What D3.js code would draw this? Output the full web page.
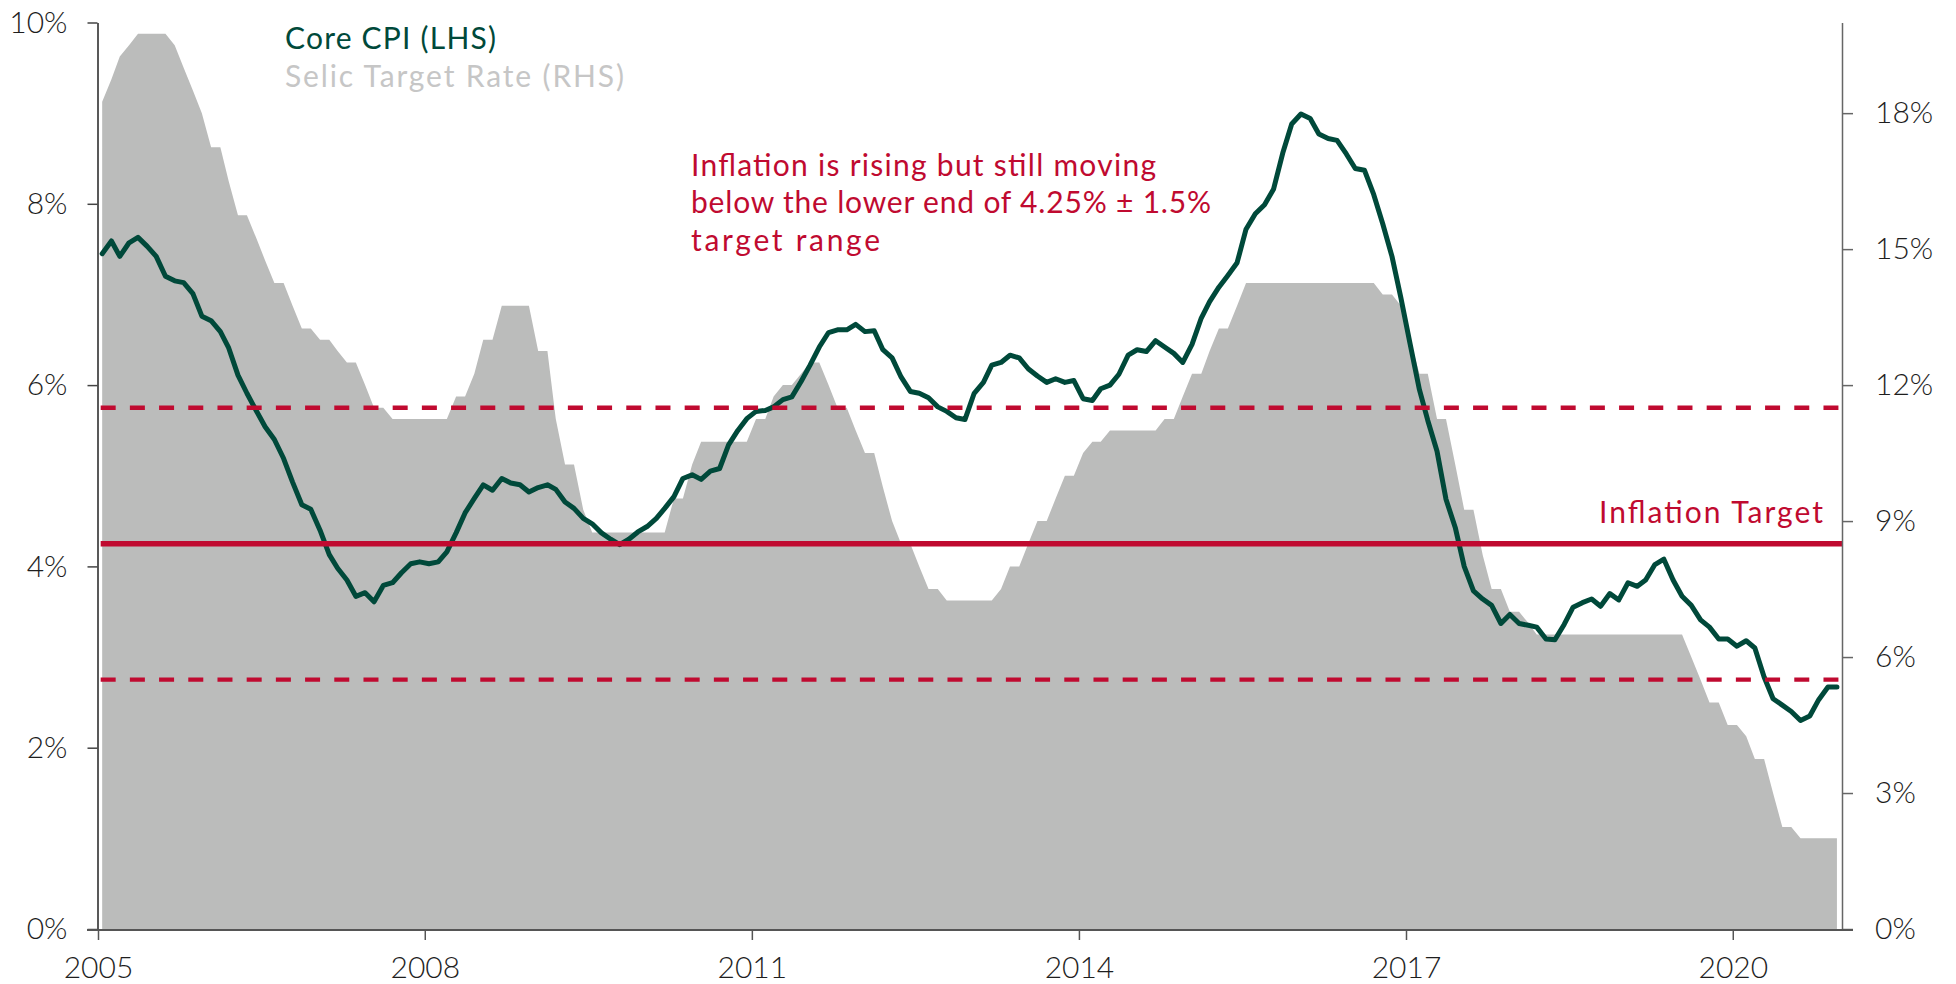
<!DOCTYPE html>
<html>
<head>
<meta charset="utf-8">
<script src="https://cdn.jsdelivr.net/npm/d3@7"></script>
<style>
  body { margin: 0; background: #ffffff; }
  svg { display: block; font-family: Lato, "Open Sans", "Noto Sans", sans-serif; }
</style>
</head>
<body>
<svg id="chart" width="1956" height="984"></svg>
<script>
// Monthly series, January 2005 to December 2020
const startYear = 2005;

// Core CPI, % y/y (left axis)
const coreCpi = [
  7.45, 7.59, 7.42, 7.57, 7.63, 7.53, 7.42, 7.20, 7.15, 7.13, 7.01, 6.76,
  6.71, 6.59, 6.41, 6.11, 5.91, 5.72, 5.54, 5.40, 5.19, 4.93, 4.68, 4.63,
  4.40, 4.13, 3.98, 3.85, 3.67, 3.71, 3.61, 3.79, 3.82, 3.93, 4.03, 4.05,
  4.03, 4.05, 4.16, 4.37, 4.59, 4.75, 4.90, 4.84, 4.97, 4.92, 4.90, 4.82,
  4.87, 4.90, 4.85, 4.71, 4.64, 4.53, 4.47, 4.37, 4.30, 4.24, 4.30, 4.38,
  4.44, 4.53, 4.64, 4.77, 4.97, 5.01, 4.96, 5.05, 5.08, 5.34, 5.50, 5.63,
  5.71, 5.72, 5.76, 5.84, 5.87, 6.04, 6.22, 6.42, 6.58, 6.61, 6.61, 6.67,
  6.59, 6.60, 6.39, 6.30, 6.09, 5.93, 5.91, 5.86, 5.76, 5.71, 5.64, 5.62,
  5.91, 6.03, 6.22, 6.25, 6.33, 6.30, 6.18, 6.10, 6.03, 6.07, 6.03, 6.05,
  5.85, 5.83, 5.96, 6.00, 6.12, 6.33, 6.39, 6.37, 6.49, 6.42, 6.35, 6.25,
  6.45, 6.74, 6.92, 7.08, 7.21, 7.35, 7.72, 7.89, 7.99, 8.16, 8.56, 8.88,
  8.99, 8.94, 8.77, 8.72, 8.70, 8.55, 8.39, 8.37, 8.10, 7.78, 7.42, 6.96,
  6.45, 5.95, 5.61, 5.27, 4.74, 4.43, 4.00, 3.73, 3.64, 3.57, 3.37, 3.47,
  3.37, 3.35, 3.33, 3.20, 3.19, 3.36, 3.55, 3.60, 3.64, 3.56, 3.70, 3.63,
  3.82, 3.78, 3.85, 4.02, 4.08, 3.85, 3.67, 3.57, 3.41, 3.33, 3.20, 3.20,
  3.12, 3.18, 3.10, 2.78, 2.54, 2.47, 2.40, 2.30, 2.35, 2.53, 2.67, 2.67
];

// Selic target rate, %, end of month (right axis)
const selicRate = [
  18.25, 18.75, 19.25, 19.50, 19.75, 19.75, 19.75, 19.75, 19.50, 19.00, 18.50, 18.00,
  17.25, 17.25, 16.50, 15.75, 15.75, 15.25, 14.75, 14.25, 14.25, 13.75, 13.25, 13.25,
  13.00, 13.00, 12.75, 12.50, 12.50, 12.00, 11.50, 11.50, 11.25, 11.25, 11.25, 11.25,
  11.25, 11.25, 11.25, 11.75, 11.75, 12.25, 13.00, 13.00, 13.75, 13.75, 13.75, 13.75,
  12.75, 12.75, 11.25, 10.25, 10.25, 9.25, 8.75, 8.75, 8.75, 8.75, 8.75, 8.75,
  8.75, 8.75, 8.75, 9.50, 9.50, 10.25, 10.75, 10.75, 10.75, 10.75, 10.75, 10.75,
  11.25, 11.25, 11.75, 12.00, 12.00, 12.25, 12.50, 12.50, 12.00, 11.50, 11.50, 11.00,
  10.50, 10.50, 9.75, 9.00, 8.50, 8.50, 8.00, 7.50, 7.50, 7.25, 7.25, 7.25,
  7.25, 7.25, 7.25, 7.50, 8.00, 8.00, 8.50, 9.00, 9.00, 9.50, 10.00, 10.00,
  10.50, 10.75, 10.75, 11.00, 11.00, 11.00, 11.00, 11.00, 11.00, 11.25, 11.25, 11.75,
  12.25, 12.25, 12.75, 13.25, 13.25, 13.75, 14.25, 14.25, 14.25, 14.25, 14.25, 14.25,
  14.25, 14.25, 14.25, 14.25, 14.25, 14.25, 14.25, 14.25, 14.25, 14.00, 14.00, 13.75,
  13.00, 12.25, 12.25, 11.25, 11.25, 10.25, 9.25, 9.25, 8.25, 7.50, 7.50, 7.00,
  7.00, 6.75, 6.50, 6.50, 6.50, 6.50, 6.50, 6.50, 6.50, 6.50, 6.50, 6.50,
  6.50, 6.50, 6.50, 6.50, 6.50, 6.50, 6.50, 6.00, 5.50, 5.00, 5.00, 4.50,
  4.50, 4.25, 3.75, 3.75, 3.00, 2.25, 2.25, 2.00, 2.00, 2.00, 2.00, 2.00
];

const leftTicks = [0, 2, 4, 6, 8, 10];
const rightTicks = [0, 3, 6, 9, 12, 15, 18];
const yearTicks = [2005, 2008, 2011, 2014, 2017, 2020];

const targetCentre = 4.25;
const targetBand = 1.5;

const legendLabels = ["Core CPI (LHS)", "Selic Target Rate (RHS)"];
const noteLines = [
  "Inflation is rising but still moving",
  "below the lower end of 4.25% \u00B1 1.5%",
  "target range"
];
const targetLabel = "Inflation Target";

// Colours
const green = "#00493a";
const crimson = "#c00a30";
const areaGrey = "#bbbcbb";
const legendGrey = "#c6c6c6";

const svg = d3.select("#chart");

const months = coreCpi.map((_, i) => new Date(startYear, i, 15));

const x = d3.scaleTime()
  .domain([new Date(2005, 0, 1), new Date(2021, 0, 1)])
  .range([98, 1842]);
const yL = d3.scaleLinear().domain([0, 10]).range([929, 22.5]);
const yR = d3.scaleLinear().domain([0, 20]).range([929, 22.5]);

// Selic shaded area
svg.append("path")
  .datum(selicRate)
  .attr("fill", areaGrey)
  .attr("d", d3.area()
    .x((d, i) => x(months[i]))
    .y0(yR(0))
    .y1(d => yR(d)));

// Core CPI line
svg.append("path")
  .datum(coreCpi)
  .attr("fill", "none")
  .attr("stroke", green)
  .attr("stroke-width", 5)
  .attr("stroke-linejoin", "round")
  .attr("stroke-linecap", "round")
  .attr("d", d3.line()
    .x((d, i) => x(months[i]))
    .y(d => yL(d)));

// Target band (dashed) and centre (solid)
const x0 = x(months[0]) - 1.5;
const x1 = x(months[months.length - 1]) + 1.5;
[targetCentre + targetBand, targetCentre - targetBand].forEach(v => {
  svg.append("line")
    .attr("x1", x0).attr("x2", x1)
    .attr("y1", yL(v)).attr("y2", yL(v))
    .attr("stroke", crimson)
    .attr("stroke-width", 4.3)
    .attr("stroke-dasharray", "15 14.2");
});
svg.append("line")
  .attr("x1", x0).attr("x2", x.range()[1])
  .attr("y1", yL(targetCentre)).attr("y2", yL(targetCentre))
  .attr("stroke", crimson)
  .attr("stroke-width", 5.5);

// Axes
const tickFont = g => g.selectAll("text")
  .attr("font-size", 30)
  .attr("font-weight", 300)
  .attr("fill", "#1e1e1e")
  .attr("font-family", "Lato, 'Open Sans', sans-serif");

svg.append("g")
  .attr("transform", "translate(97.5,0)")
  .call(d3.axisLeft(yL).tickValues(leftTicks).tickFormat(d => d + "%")
    .tickSize(10).tickSizeOuter(0).tickPadding(20))
  .call(g => g.select(".domain").attr("stroke", "#222").attr("stroke-width", 1.5))
  .call(g => g.selectAll(".tick line").attr("stroke", "#444").attr("stroke-width", 1.5))
  .call(tickFont);

svg.append("g")
  .attr("transform", `translate(${x.range()[1]},0)`)
  .call(d3.axisRight(yR).tickValues(rightTicks).tickFormat(d => d + "%")
    .tickSize(11).tickSizeOuter(0).tickPadding(22))
  .call(g => g.select(".domain").attr("stroke", "#666").attr("stroke-width", 1.5))
  .call(g => g.selectAll(".tick line").attr("stroke", "#666").attr("stroke-width", 1.5))
  .call(tickFont);

svg.append("g")
  .attr("transform", "translate(0,930)")
  .call(d3.axisBottom(x).tickValues(yearTicks.map(yr => new Date(yr, 0, 1)))
    .tickFormat(d3.timeFormat("%Y")).tickSize(10).tickSizeOuter(0).tickPadding(17))
  .call(g => g.select(".domain").remove())
  .call(g => g.selectAll(".tick line").attr("stroke", "#555").attr("stroke-width", 1.5))
  .call(tickFont);

svg.append("line")
  .attr("x1", 87).attr("x2", 1853)
  .attr("y1", 930).attr("y2", 930)
  .attr("stroke", "#555")
  .attr("stroke-width", 2.2);

// Text helper: a label stretched to a set run width with extra letter spacing
function label(txt, xPos, yPos, colour, width, anchor) {
  const t = svg.append("text")
    .attr("x", xPos).attr("y", yPos)
    .attr("font-size", 30)
    .attr("fill", colour)
    .attr("textLength", width)
    .attr("lengthAdjust", "spacing")
    .text(txt);
  if (anchor) t.attr("text-anchor", anchor);
  return t;
}

// Legend
label(legendLabels[0], 285, 49, green, 211);
label(legendLabels[1], 285, 87, legendGrey, 339);

// Annotations
const noteWidths = [465, 520, 189];
noteLines.forEach((t, i) => label(t, 691, 176 + i * 37.3, crimson, noteWidths[i]));

label(targetLabel, 1823, 523, crimson, 224, "end");
</script>
</body>
</html>
